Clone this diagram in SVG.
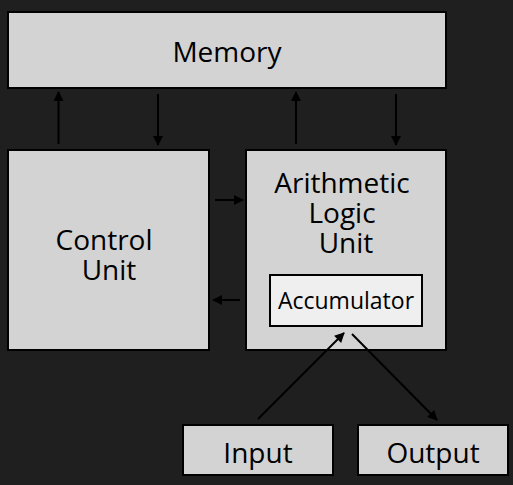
<svg xmlns="http://www.w3.org/2000/svg" width="513" height="485" viewBox="0 0 513 485">
<defs>
<style>
.box{fill:#d3d3d3;stroke:#000;stroke-width:2}
.acc{fill:#efefef;stroke:#000;stroke-width:2}
.t{font-family:"Open Sans","Noto Sans",sans-serif;font-size:28px;fill:#000;text-anchor:middle}
.ts{font-family:"Open Sans","Noto Sans",sans-serif;font-size:23px;fill:#000;text-anchor:middle}
.c{stroke:#000;stroke-width:2;fill:none;marker-end:url(#ah)}
</style>
<marker id="ah" viewBox="0 0 10 10" refX="9" refY="5" markerWidth="5.5" markerHeight="5" markerUnits="strokeWidth" orient="auto">
<path d="M0,0 L10,5 L0,10 z" fill="#000"/>
</marker>
</defs>
<rect width="513" height="485" fill="#1f1f1f"/>
<g id="memory"><rect class="box" x="8" y="12" width="438" height="76"/><text class="t" x="227" y="62">Memory</text></g>
<g id="control-unit"><rect class="box" x="8" y="150" width="201" height="200"/><text class="t"><tspan x="104" y="250">Control</tspan><tspan x="109" y="280">Unit</tspan></text></g>
<g id="alu"><rect class="box" x="246" y="150" width="200" height="200"/><text class="t"><tspan x="342" y="193">Arithmetic</tspan><tspan x="342" y="223">Logic</tspan><tspan x="346" y="253">Unit</tspan></text>
<g id="accumulator"><rect class="acc" x="270" y="275" width="152" height="51"/><text class="ts" x="346" y="309">Accumulator</text></g></g>
<g id="input"><rect class="box" x="183" y="425" width="150" height="50"/><text class="t" x="258" y="463">Input</text></g>
<g id="output"><rect class="box" x="358" y="425" width="150" height="50"/><text class="t" x="433" y="463">Output</text></g>
<g id="connectors">
<line class="c" x1="58.5" y1="144" x2="58.5" y2="92"/>
<line class="c" x1="158" y1="94" x2="158" y2="145"/>
<line class="c" x1="296" y1="144" x2="296" y2="92"/>
<line class="c" x1="396" y1="94" x2="396" y2="145"/>
<line class="c" x1="215" y1="200" x2="243" y2="200"/>
<line class="c" x1="240" y1="300" x2="213" y2="300"/>
<line class="c" x1="258" y1="419" x2="344" y2="333"/>
<line class="c" x1="352" y1="334" x2="437" y2="420"/>
</g>
</svg>
